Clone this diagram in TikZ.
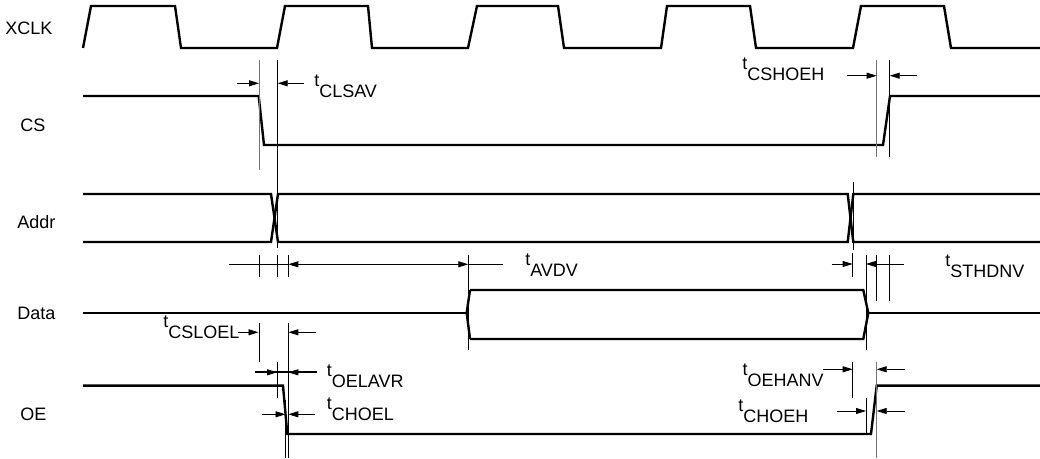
\documentclass[tikz,border=0pt]{standalone}
\usepackage{fontspec}
\setmainfont{Liberation Sans}
\usetikzlibrary{arrows.meta}
\newcommand{\tsub}[1]{t\lower 8.25pt\hbox{#1}}
\begin{document}
\begin{tikzpicture}[x=0.75pt,y=-0.75pt,
  sig/.style={line width=1.8pt, line join=miter},
  dimln/.style={line width=0.6pt},
  gline/.style={line width=0.6pt, black!55},
  tip/.style={-{Triangle[length=7.5pt,width=4.5pt]}},
  lbl/.style={font=\fontsize{13.5pt}{16pt}\selectfont, inner sep=0pt},
  sigl/.style={lbl, anchor=west}]
\useasboundingbox (0,0) rectangle (1040,459);
% signal names
\node[sigl] (nxclk) at (5,28) {XCLK};
\node[sigl] (ncs) at (20,125) {CS};
\node[sigl] (naddr) at (17,222) {Addr};
\node[sigl] (ndata) at (17,313) {Data};
\node[sigl] (noe) at (20,414) {OE};
% XCLK
\draw[sig] (83,48) -- (91,6) -- (175,6) -- (181,48) -- (277,48) -- (285,6) -- (368,6) -- (372,48)
  -- (468,48) -- (477,6) -- (558,6) -- (564,48) -- (661,48) -- (667,6) -- (750,6) -- (756,48)
  -- (853,48) -- (861,6) -- (944,6) -- (951,48) -- (1040,48);
% CS
\draw[sig] (83,96) -- (258.7,96) -- (264,145) -- (883,145) -- (890,96) -- (1040,96);
% Addr
\draw[sig] (83,194) -- (271,194) -- (278,242) -- (847.7,242) -- (853.3,194) -- (1040,194);
\draw[sig] (83,242) -- (271,242) -- (278,194) -- (847.7,194) -- (853.3,242) -- (1040,242);
% Data
\draw[sig] (83,313) -- (466.7,313);
\draw[sig] (470,290) -- (466.7,313) -- (470,339);
\draw[sig] (470,290) -- (863.3,290) -- (868.3,313) -- (863.3,339) -- (470,339);
\draw[sig] (868.3,313) -- (1040,313);
% OE
\draw[sig] (83,385.7) -- (283,385.7) -- (287.3,434) -- (871,434) -- (876.7,385.7) -- (1040,385.7);

% ---- t_CLSAV
\draw[gline] (259,60) -- (259,170);
\draw[dimln] (277.7,60) -- (277.7,248);
\coordinate (a1) at (237,83.3); \coordinate (a1t) at (259,83.3);
\coordinate (a2) at (304,83.3); \coordinate (a2t) at (277.7,83.3);
\draw[dimln,tip] (a1) -- (a1t);
\draw[dimln,tip] (a2) -- (a2t);
\node[lbl,anchor=base west] (lclsav) at (314,87) {\tsub{CLSAV}};
% ---- t_CSHOEH
\draw[gline] (876.7,60) -- (876.7,157);
\draw[dimln] (889.7,60) -- (889.7,157);
\coordinate (b1) at (847,75.7); \coordinate (b1t) at (876.7,75.7);
\coordinate (b2) at (916.7,75.7); \coordinate (b2t) at (889.7,75.7);
\draw[dimln,tip] (b1) -- (b1t);
\draw[dimln,tip] (b2) -- (b2t);
\node[lbl,anchor=base west] (lcshoeh) at (742,70) {\tsub{CSHOEH}};
% Addr right vertical
\draw[dimln] (853.3,181.7) -- (853.3,250);

% ---- t_AVDV row
\draw[dimln] (229,264.3) -- (288.3,264.3);
\draw[dimln] (468.3,264.3) -- (503,264.3);
\coordinate (c1) at (288.3,264.3); \coordinate (c2) at (468.3,264.3);
\draw[dimln,{Triangle[length=7.5pt,width=4.5pt]}-{Triangle[length=7.5pt,width=4.5pt]}] (c1) -- (c2);
\draw[dimln] (259,255) -- (259,277);
\draw[dimln] (277.3,255) -- (277.3,277);
\draw[dimln] (288.3,255) -- (288.3,277);
\draw[dimln] (468.3,255) -- (468.3,350);
\node[lbl,anchor=base west] (lavdv) at (525,266) {\tsub{AVDV}};
% ---- t_STHDNV row
\coordinate (d1) at (831.7,264); \coordinate (d1t) at (852.7,264);
\coordinate (d2) at (904,264); \coordinate (d2t) at (866,264);
\draw[dimln,tip] (d1) -- (d1t);
\draw[dimln,tip] (d2) -- (d2t);
\draw[dimln] (852.7,253) -- (852.7,277);
\draw[dimln] (866,255) -- (866,350);
\draw[dimln] (876.7,255) -- (876.7,301);
\draw[dimln] (889.3,255) -- (889.3,301);
\node[lbl,anchor=base west] (lsthdnv) at (945,267) {\tsub{STHDNV}};

% ---- t_CSLOEL
\node[lbl,anchor=base west] (lcsloel) at (163,328) {\tsub{CSLOEL}};
\coordinate (e1) at (238,332.3); \coordinate (e1t) at (258.5,332.3);
\coordinate (e2) at (316,332.3); \coordinate (e2t) at (288.3,332.3);
\draw[dimln,tip] (e1) -- (e1t);
\draw[dimln,tip] (e2) -- (e2t);
\draw[dimln] (259,323) -- (259,361.7);
\draw[dimln] (288.3,323) -- (288.3,458);
% ---- t_OELAVR
\draw[sig] (255,372.3) -- (316.7,372.3);
\coordinate (f1) at (255,372.3); \coordinate (f1t) at (277,372.3);
\coordinate (f2) at (316.7,372.3); \coordinate (f2t) at (288.3,372.3);
\draw[dimln,tip] (f1) -- (f1t);
\draw[dimln,tip] (f2) -- (f2t);
\draw[dimln] (277.3,362) -- (277.3,398);
\node[lbl,anchor=base west] (loelavr) at (326.7,377) {\tsub{OELAVR}};
% ---- t_CHOEL
\coordinate (g1) at (262,414.3); \coordinate (g1t) at (285.5,414.3);
\coordinate (g2) at (315,414.3); \coordinate (g2t) at (288.3,414.3);
\draw[dimln,tip] (g1) -- (g1t);
\draw[dimln,tip] (g2) -- (g2t);
\draw[dimln] (285.5,400) -- (285.5,458);
\node[lbl,anchor=base west] (lchoel) at (326.7,410) {\tsub{CHOEL}};

% ---- t_OEHANV
\node[lbl,anchor=base east] (loehanv) at (824,376) {\tsub{OEHANV}};
\coordinate (h1) at (823,369.3); \coordinate (h1t) at (852.7,369.3);
\coordinate (h2) at (905,369.3); \coordinate (h2t) at (876.7,369.3);
\draw[dimln,tip] (h1) -- (h1t);
\draw[dimln,tip] (h2) -- (h2t);
\draw[dimln] (852.7,361.7) -- (852.7,398.3);
\draw[gline] (876.7,361.7) -- (876.7,458);
% ---- t_CHOEH
\node[lbl,anchor=base west] (lchoeh) at (738,412) {\tsub{CHOEH}};
\coordinate (k1) at (836.7,411); \coordinate (k1t) at (866,411);
\coordinate (k2) at (905,411); \coordinate (k2t) at (876.7,411);
\draw[dimln,tip] (k1) -- (k1t);
\draw[dimln,tip] (k2) -- (k2t);
\draw[dimln] (866,398) -- (866,435);
\end{tikzpicture}
\end{document}
